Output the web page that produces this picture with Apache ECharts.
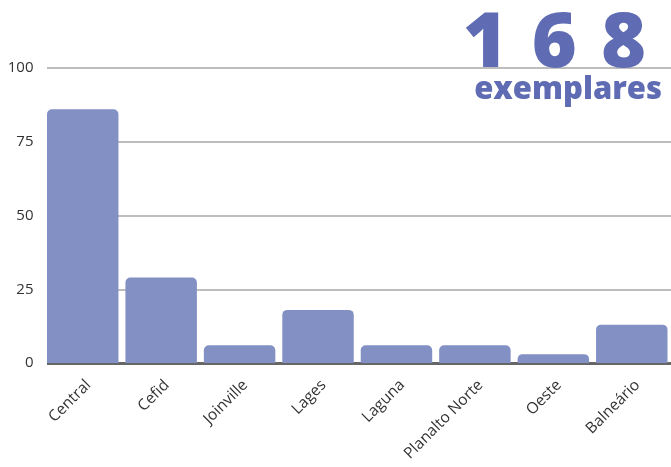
<!DOCTYPE html>
<html><head><meta charset="utf-8">
<script src="https://cdn.jsdelivr.net/npm/echarts@6/dist/echarts.min.js"></script>
<style>html,body{margin:0;padding:0;background:#fff}#c{width:671px;height:467px}</style>
</head><body><div id="c"></div>
<script>
const categories = ['Central','Cefid','Joinville','Lages','Laguna','Planalto Norte','Oeste','Balneário'];
const values = [86, 29, 6, 18, 6, 6, 3, 13];
const yTicks = [0, 25, 50, 75, 100];
const totalDigits = ['1', '6', '8'];
const unitText = 'exemplares';

const chart = echarts.init(document.getElementById('c'));
chart.setOption({
  animation: false,
  grid: {left: 43.5, right: -6, top: 68, bottom: 104},
  xAxis: {
    type: 'category', data: categories,
    axisLine: {lineStyle: {color: '#666', width: 3}},
    axisTick: {show: false},
    axisLabel: {rotate: 45, fontFamily: 'Open Sans', fontSize: 15.5, color: '#333', margin: 14, align: 'right', verticalAlign: 'top'}
  },
  yAxis: {
    type: 'value', min: yTicks[0], max: yTicks[yTicks.length-1], interval: 25,
    axisLine: {show: false}, axisTick: {show: false},
    axisLabel: {fontFamily: 'Open Sans', fontSize: 15, color: '#333', margin: 10},
    splitLine: {lineStyle: {color: '#bdbdbd', width: 2}}
  },
  series: [{
    type: 'bar', data: values, barCategoryGap: '8.9%',
    itemStyle: {color: '#8390c3', borderRadius: [5,5,0,0]},
    z: 3
  }],
  graphic: [
    {type: 'rect', shape: {x: 36, y: 60, width: 11, height: 310}, style: {fill: '#fff'}, z: 100, silent: true},
    {type: 'text', right: 25, top: 7, z: 10, style: {
      text: totalDigits.map(d => '{d|' + d + '}').join(' '),
      font: '900 77px "Open Sans"', fill: '#5f6cb4',
      rich: {d: {font: '900 77px "Open Sans"', fill: '#5f6cb4', padding: [0, 2, 0, 2]}}
    }},
    {type: 'text', right: 9, top: 75, z: 10, style: {text: unitText, font: '800 31px "Open Sans"', fill: '#5f6cb4'}}
  ]
});
</script></body></html>
